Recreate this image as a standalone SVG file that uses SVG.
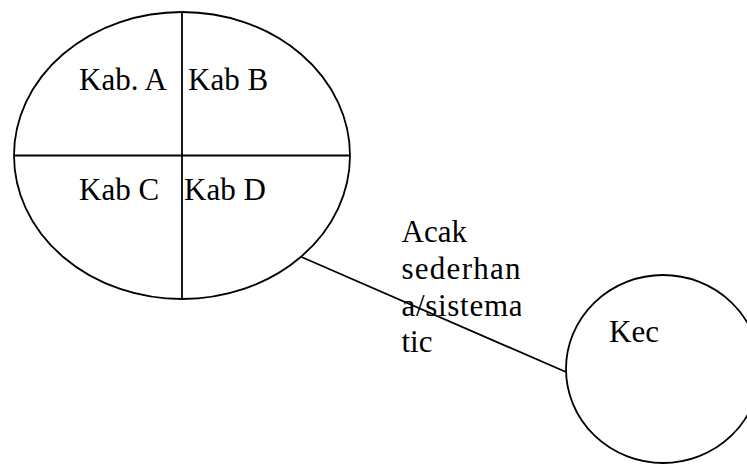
<svg xmlns="http://www.w3.org/2000/svg" width="747" height="465" viewBox="0 0 747 465">
<style>
.s{fill:none;stroke:#000;stroke-width:1.8}
text{font-family:'Liberation Serif','Times New Roman','DejaVu Serif',serif;font-size:31px;fill:#000}
</style>
<defs>
<clipPath id="lc"><rect x="395" y="210" width="126" height="160"/></clipPath>
</defs>
<rect width="747" height="465" fill="#fff"/>
<g id="kabupaten">
<ellipse class="s" cx="182" cy="155.5" rx="168" ry="143.5"/>
<line class="s" x1="182" y1="12" x2="182" y2="299"/>
<line class="s" x1="14" y1="155.5" x2="350" y2="155.5"/>
<text x="79" y="90">Kab. A</text>
<text x="188" y="90">Kab B</text>
<text x="79" y="200">Kab C</text>
<text x="184" y="200">Kab D</text>
</g>
<g id="kecamatan">
<ellipse class="s" cx="663" cy="369" rx="97" ry="94"/>
<text x="609" y="342">Kec</text>
</g>
<g id="connectors">
<line class="s" x1="301.5" y1="257" x2="566" y2="372"/>
</g>
<g id="label" clip-path="url(#lc)">
<text x="401.5" y="242">Acak</text>
<text x="401.5" y="279" textLength="119" lengthAdjust="spacing">sederhan</text>
<text x="401.5" y="316" letter-spacing="0.7">a/sistema</text>
<text x="401.5" y="352">tic</text>
</g>
</svg>
